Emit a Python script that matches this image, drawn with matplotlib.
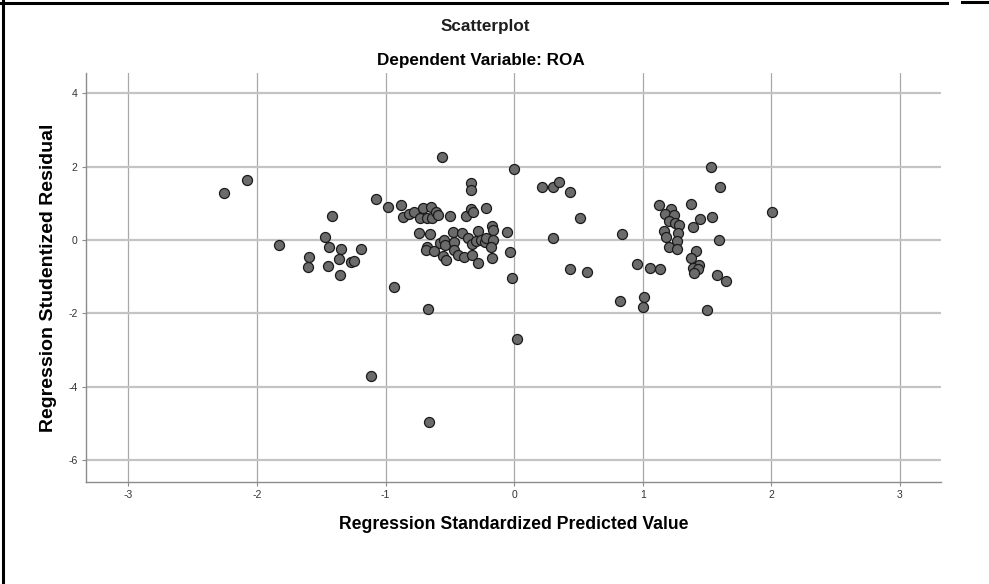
import numpy as np
import matplotlib
matplotlib.use("Agg")
import matplotlib.pyplot as plt
from matplotlib.lines import Line2D

plt.rcParams['font.family'] = ['Liberation Sans', 'DejaVu Sans']

# standardized predicted value / studentized residual pairs
pred = [
    -2.254, -2.075, -1.826, -1.593, -1.601, -1.468, -1.437, -1.414, -1.450, -1.346,
    -1.359, -1.352, -1.268, -1.245, -1.188, -1.071, -0.981, -0.936, -0.879, -0.861,
    -0.817, -0.778, -0.706, -0.646, -0.729, -0.677, -0.641, -0.610, -0.596, -0.498,
    -0.374, -0.332, -0.317, -0.218, -0.560, 0.000, -0.335, -0.335, -0.739, -0.654,
    -0.675, -0.687, -0.623, -0.576, -0.542, -0.537, -0.469, -0.477, -0.469, -0.550,
    -0.529, -0.438, -0.391, -0.407, -0.360, -0.324, -0.329, -0.285, -0.283, -0.293,
    -0.257, -0.226, -0.220, -0.174, -0.166, -0.163, -0.181, -0.171, -0.057, -0.036,
    -0.013, -0.669, -1.110, -0.660, 0.020,
    0.220, 0.301, 0.345, 0.436, 0.511, 0.306, 0.840, 0.438, 0.563, 0.952,
    0.827, 1.012, 1.001, 1.056, 1.136, 1.500, 1.528, 1.603, 1.123, 1.219,
    1.375, 1.170, 1.240, 1.201, 1.253, 1.279, 1.447, 1.538, 1.388, 1.162,
    1.178, 1.274, 1.266, 1.201, 1.263, 1.595, 1.416, 1.377, 1.440, 1.388,
    1.427, 1.396, 1.577, 1.647, 2.005,
]
resid = [
    1.29, 1.62, -0.15, -0.47, -0.75, 0.08, -0.20, 0.64, -0.71, -0.24,
    -0.51, -0.95, -0.61, -0.58, -0.24, 1.12, 0.89, -1.29, 0.96, 0.63,
    0.71, 0.77, 0.86, 0.91, 0.61, 0.61, 0.61, 0.75, 0.68, 0.66,
    0.65, 0.84, 0.77, 0.86, 2.25, 1.94, 1.54, 1.36, 0.20, 0.15,
    -0.20, -0.27, -0.29, -0.09, 0.00, -0.15, -0.06, 0.22, -0.27, -0.44,
    -0.56, -0.41, -0.47, 0.18, 0.05, -0.12, -0.41, -0.62, 0.23, -0.02,
    0.00, -0.05, 0.05, 0.38, 0.27, 0.00, -0.20, -0.49, 0.22, -0.32,
    -1.05, -1.89, -3.72, -4.97, -2.70,
    1.44, 1.45, 1.58, 1.31, 0.59, 0.06, 0.16, -0.80, -0.87, -0.65,
    -1.66, -1.57, -1.83, -0.76, -0.79, -1.91, 1.98, 1.45, 0.95, 0.85,
    0.98, 0.70, 0.68, 0.52, 0.45, 0.41, 0.57, 0.62, 0.36, 0.25,
    0.07, 0.18, -0.02, -0.18, -0.25, -0.01, -0.31, -0.50, -0.68, -0.77,
    -0.80, -0.91, -0.96, -1.11, 0.75,
]
xticks = [-3, -2, -1, 0, 1, 2, 3]
yticks = [-6, -4, -2, 0, 2, 4]

W, H = 989, 584
fig = plt.figure(figsize=(W / 100, H / 100), dpi=100)
ax = fig.add_axes([86 / W, 1 - 482 / H, 855 / W, 409 / H])

ax.set_xlim(-3.33, 3.32)
ax.set_ylim(-6.6, 4.55)
ax.set_xticks(xticks)
ax.set_yticks(yticks)
ax.set_xticklabels([str(t) for t in xticks])
ax.set_yticklabels([str(t) for t in yticks])

for x in xticks:
    ax.axvline(x, color='#a8a8a8', lw=0.9, zorder=1)
for y in yticks:
    ax.axhline(y, color='#c4c4c4', lw=1.6, zorder=1)

ax.scatter(pred, resid, s=52, c='#6b6b6b', edgecolors='#1a1a1a',
           linewidths=0.9, zorder=3)

for side in ['top', 'right']:
    ax.spines[side].set_visible(False)
for side in ['left', 'bottom']:
    ax.spines[side].set_color('#8c8c8c')
    ax.spines[side].set_linewidth(1.0)
ax.tick_params(length=3, width=0.8, color='#8c8c8c', labelsize=7.5,
               labelcolor='#333333')
ax.tick_params(axis='x', pad=2.5)
ax.tick_params(axis='y', pad=3)

ax.set_xlabel('Regression Standardized Predicted Value', fontsize=12.7,
              fontweight='bold', labelpad=12)
ax.set_ylabel('Regression Studentized Residual', fontsize=14,
              fontweight='bold', labelpad=8)

fig.text(485 / W, 1 - 26 / H, 'Scatterplot', fontsize=12.3,
         fontweight='bold', color='#1e1e1e', ha='center', va='center')
fig.text(481 / W, 1 - 60 / H, 'Dependent Variable: ROA', fontsize=12.3,
         fontweight='bold', ha='center', va='center')

# frame lines along the left and top edge
fig.add_artist(Line2D([3 / W, 3 / W], [0, 1], color='black', lw=2.2,
                      transform=fig.transFigure))
fig.add_artist(Line2D([0, 947 / W], [1 - 3 / H, 1 - 3 / H], color='black',
                      lw=2.2, transform=fig.transFigure))
fig.add_artist(Line2D([962 / W, 1], [1 - 1.5 / H, 1 - 1.5 / H], color='black',
                      lw=2.2, transform=fig.transFigure))

fig.savefig('out.png', dpi=100)
